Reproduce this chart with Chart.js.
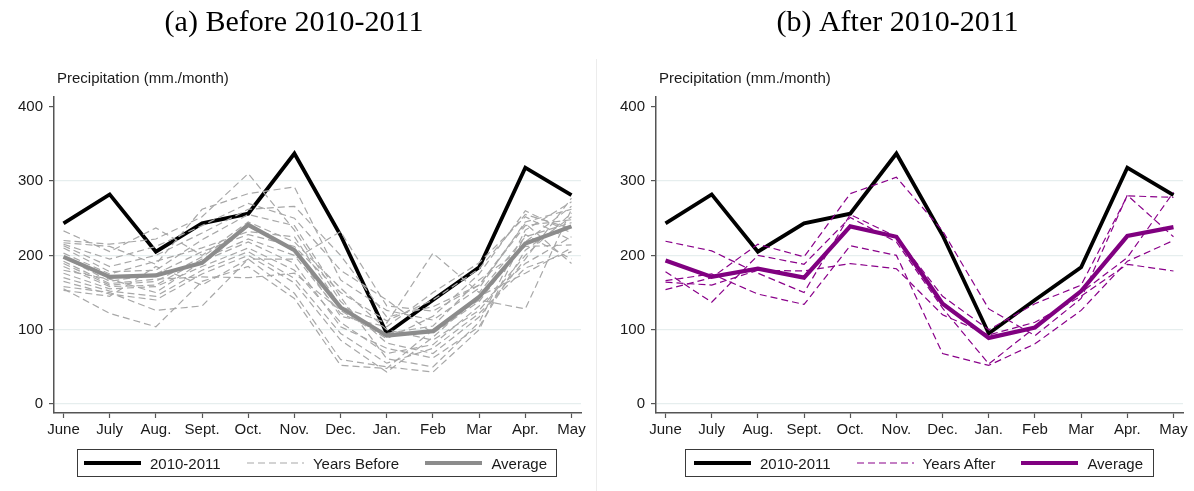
<!DOCTYPE html>
<html>
<head>
<meta charset="utf-8">
<script src="https://cdn.jsdelivr.net/npm/chart.js@4.4.1/dist/chart.umd.min.js"></script>
<style>
  html, body { margin: 0; padding: 0; background: #fff; }
  #wrap { position: relative; width: 1194px; height: 491px; overflow: hidden; background: #fff; }
  canvas { position: absolute; top: 0; }
  #chartA { left: 0; }
  #chartB { left: 597px; }
  .sep { position: absolute; left: 596px; top: 59px; width: 1px; height: 432px; background: #ececec; }
  .legend {
    position: absolute; top: 449px; height: 28px; box-sizing: border-box;
    border: 1px solid #3a3a3a; display: flex; align-items: center; justify-content: space-between;
    font: 15px "Liberation Sans", Arial, sans-serif; color: #1a1a1a;
  }
  .legend .item { display: flex; align-items: center; white-space: nowrap; }
  .legend svg { display: block; margin-right: 9px; }
</style>
</head>
<body>
<div id="wrap">
  <canvas id="chartA" width="596" height="491"></canvas>
  <div class="sep"></div>
  <canvas id="chartB" width="597" height="491"></canvas>
  <div class="legend" id="legendA" style="left:77px;width:480px;padding:0 9px 0 6px;"></div>
  <div class="legend" id="legendB" style="left:685px;width:469px;padding:0 10px 0 8px;"></div>
</div>
<script>
// Months of the hydrological year, June to May
const months = ['June', 'July', 'Aug.', 'Sept.', 'Oct.', 'Nov.', 'Dec.', 'Jan.', 'Feb', 'Mar', 'Apr.', 'May'];
const yTicks = [0, 100, 200, 300, 400];

// Monthly precipitation (mm./month)
const season2010 = [243, 282, 205, 243, 256, 337, 227, 95, 140, 184, 318, 281];

const avgBefore = [198, 171, 173, 190, 241, 207, 130, 92, 98, 144, 216, 239];
const yearsBefore = [
  [233, 205, 237, 200, 245, 218, 156, 100, 86, 126, 200, 257],
  [220, 215, 222, 252, 310, 234, 138, 82, 68, 117, 195, 277],
  [217, 212, 188, 262, 283, 292, 167, 126, 113, 156, 245, 262],
  [215, 195, 212, 240, 270, 250, 180, 140, 95, 138, 218, 266],
  [213, 185, 200, 230, 262, 266, 200, 117, 131, 160, 240, 248],
  [210, 178, 180, 221, 255, 240, 144, 61, 50, 110, 234, 272],
  [203, 175, 192, 210, 232, 225, 131, 109, 203, 150, 225, 244],
  [198, 165, 175, 205, 228, 212, 150, 112, 140, 182, 255, 236],
  [192, 162, 168, 171, 170, 176, 126, 88, 118, 175, 260, 230],
  [189, 160, 165, 198, 240, 207, 118, 104, 150, 190, 252, 220],
  [185, 158, 160, 195, 222, 200, 122, 95, 105, 167, 212, 214],
  [180, 168, 150, 192, 218, 189, 104, 75, 62, 104, 207, 252],
  [176, 155, 158, 185, 210, 180, 110, 68, 80, 132, 189, 225],
  [170, 152, 145, 180, 205, 169, 95, 55, 75, 122, 183, 205],
  [165, 148, 140, 175, 200, 163, 86, 43, 90, 145, 176, 210],
  [158, 150, 126, 132, 195, 149, 60, 50, 43, 100, 228, 195],
  [155, 122, 104, 165, 185, 142, 52, 48, 100, 140, 128, 262],
  [153, 145, 185, 160, 195, 195, 232, 132, 125, 160, 243, 189]
];

const avgAfter = [193, 171, 182, 170, 239, 225, 135, 89, 103, 152, 226, 238];
const yearsAfter = [
  [154, 170, 215, 198, 283, 305, 233, 128, 92, 142, 281, 225],
  [219, 206, 176, 150, 255, 225, 145, 100, 135, 160, 280, 278],
  [178, 137, 200, 188, 251, 218, 129, 54, 103, 150, 197, 285],
  [166, 175, 148, 134, 213, 200, 68, 52, 81, 126, 192, 220],
  [164, 160, 180, 179, 189, 182, 120, 93, 110, 145, 188, 179]
];

const SANS = '"Liberation Sans", Arial, sans-serif';
const AXIS = '#555555';

// Panel title and the axis caption above the y axis
const panelText = {
  id: 'panelText',
  afterDraw(chart, args, opts) {
    const { ctx, chartArea } = chart;
    ctx.save();
    ctx.fillStyle = '#000';
    ctx.textBaseline = 'middle';
    ctx.textAlign = 'center';
    ctx.font = '30px "Liberation Serif", "Times New Roman", serif';
    ctx.fillText(opts.title, chart.width / 2 + opts.titleShift, 23);
    ctx.textAlign = 'left';
    ctx.fillStyle = '#1a1a1a';
    ctx.font = '15px ' + SANS;
    ctx.fillText(opts.caption, chartArea.left + 3, 79);
    ctx.restore();
  }
};

function toPoints(values) {
  return values.map((v, i) => ({ x: i, y: v }));
}

function makePanel(canvasId, cfg) {
  const datasets = [];
  // drawn last = listed first
  datasets.push({ data: toPoints(cfg.avg), borderColor: cfg.avgColor, borderWidth: 4.2 });
  cfg.years.forEach(vals => datasets.push({
    data: toPoints(vals), borderColor: cfg.dashColor, borderWidth: 1.2, borderDash: [7, 4]
  }));
  datasets.push({ data: toPoints(season2010), borderColor: '#000', borderWidth: 3.8 });

  return new Chart(document.getElementById(canvasId), {
    type: 'line',
    data: { datasets },
    plugins: [panelText],
    options: {
      responsive: false,
      animation: false,
      devicePixelRatio: 1,
      parsing: false,
      normalized: true,
      layout: { padding: { top: 97, right: cfg.padRight, left: 0, bottom: 0 } },
      elements: { point: { radius: 0, hoverRadius: 0 }, line: { tension: 0, fill: false, borderJoinStyle: 'miter' } },
      plugins: {
        legend: { display: false },
        tooltip: { enabled: false },
        panelText: { title: cfg.title, caption: 'Precipitation (mm./month)', titleShift: cfg.titleShift }
      },
      scales: {
        x: {
          type: 'linear',
          min: -0.206,
          max: 11.206,
          afterBuildTicks: s => { s.ticks = months.map((m, i) => ({ value: i })); },
          afterFit: s => { s.height = 78; },
          ticks: {
            callback: v => months[v], autoSkip: false, maxRotation: 0, minRotation: 0,
            padding: 3, color: '#1a1a1a', font: { family: SANS, size: 15 }
          },
          grid: { drawOnChartArea: false, drawTicks: true, tickLength: 5, tickColor: AXIS, tickWidth: 1.2 },
          border: { display: true, color: AXIS, width: 1.5 }
        },
        y: {
          min: -12,
          max: 413,
          afterBuildTicks: s => { s.ticks = yTicks.map(v => ({ value: v })); },
          afterFit: s => { s.width = cfg.axisLeft; },
          ticks: { padding: 6, color: '#1a1a1a', font: { family: SANS, size: 15 } },
          grid: {
            color: c => (c.tick && c.tick.value === 400) ? 'rgba(0,0,0,0)' : '#e6eeee',
            lineWidth: 1.2, drawTicks: true, tickLength: 5, tickColor: AXIS, tickWidth: 1.2
          },
          border: { display: true, color: AXIS, width: 1.5 }
        }
      }
    }
  });
}

makePanel('chartA', {
  title: '(a) Before 2010-2011', titleShift: -4,
  avg: avgBefore, years: yearsBefore,
  avgColor: '#8c8c8c', dashColor: '#a8a8a8',
  axisLeft: 54, padRight: 15
});

makePanel('chartB', {
  title: '(b) After 2010-2011', titleShift: 2,
  avg: avgAfter, years: yearsAfter,
  avgColor: '#800080', dashColor: '#8a008a',
  axisLeft: 59, padRight: 11
});

// Legend boxes under each panel
function sample(color, width, dash) {
  const d = dash ? ` stroke-dasharray="${dash}"` : '';
  return `<svg width="57" height="8"><line x1="0" y1="4" x2="57" y2="4" stroke="${color}" stroke-width="${width}"${d}/></svg>`;
}
function buildLegend(id, entries) {
  document.getElementById(id).innerHTML = entries.map(e =>
    `<div class="item">${sample(e.color, e.width, e.dash)}<span>${e.label}</span></div>`).join('');
}
buildLegend('legendA', [
  { label: '2010-2011', color: '#000', width: 4 },
  { label: 'Years Before', color: '#a8a8a8', width: 1.2, dash: '7 4' },
  { label: 'Average', color: '#8c8c8c', width: 4.2 }
]);
buildLegend('legendB', [
  { label: '2010-2011', color: '#000', width: 4 },
  { label: 'Years After', color: '#8a008a', width: 1.2, dash: '7 4' },
  { label: 'Average', color: '#800080', width: 4.2 }
]);
</script>
</body>
</html>
